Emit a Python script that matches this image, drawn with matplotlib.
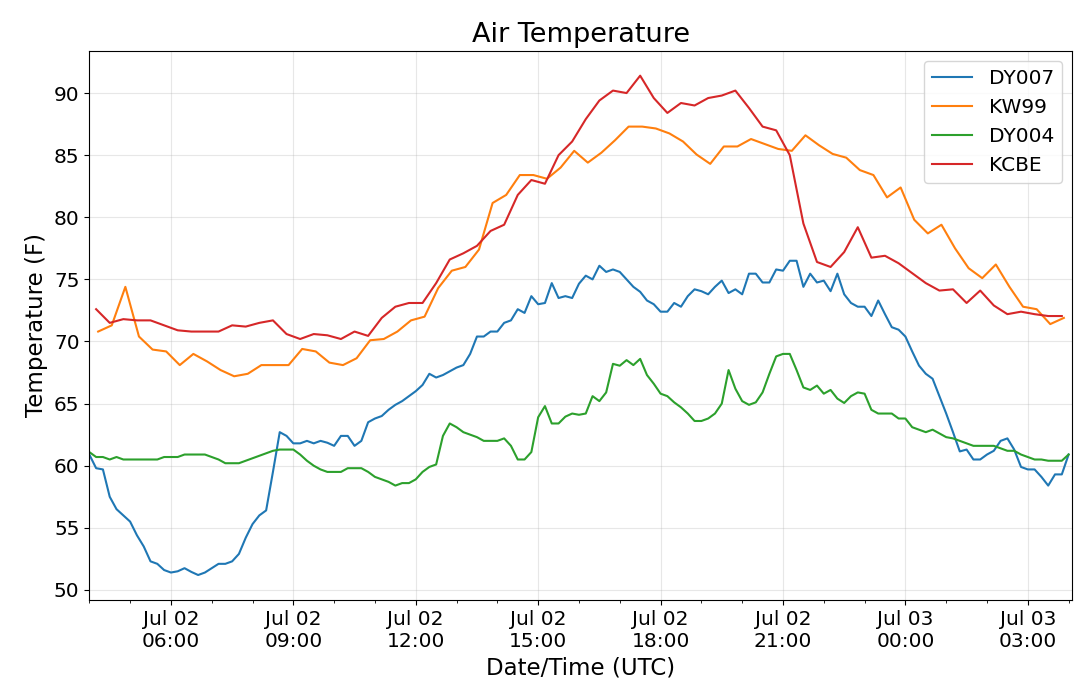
import numpy as np
import pandas as pd
import matplotlib
matplotlib.use("Agg")
import matplotlib.pyplot as plt
import matplotlib.dates as mdates

# DY007 / DY004: 10-minute station readings, 04:00 Jul 02 -> 04:00 Jul 03
dy007_temp = [
    60.9, 59.8, 59.7, 57.5, 56.5, 56.0, 55.5, 54.4, 53.5, 52.3,
    52.1, 51.6, 51.4, 51.5, 51.75, 51.45, 51.2, 51.4, 51.75, 52.1,
    52.1, 52.3, 52.9, 54.2, 55.3, 56.0, 56.4, 59.5, 62.7, 62.4,
    61.8, 61.8, 62.0, 61.8, 62.0, 61.85, 61.6, 62.4, 62.4, 61.6,
    62.0, 63.5, 63.8, 64.0, 64.5, 64.9, 65.2, 65.6, 66.0, 66.5,
    67.4, 67.1, 67.3, 67.6, 67.9, 68.1, 69.0, 70.4, 70.4, 70.8,
    70.8, 71.5, 71.7, 72.6, 72.3, 73.65, 73.0, 73.1, 74.7, 73.5,
    73.65, 73.5, 74.65, 75.3, 75.0, 76.1, 75.6, 75.8, 75.6, 75.0,
    74.4, 74.0, 73.3, 73.0, 72.4, 72.4, 73.1, 72.8, 73.65, 74.2,
    74.05, 73.8, 74.4, 74.9, 73.9, 74.2, 73.8, 75.46, 75.46, 74.75,
    74.75, 75.8, 75.7, 76.5, 76.5, 74.4, 75.46, 74.75, 74.9, 74.05,
    75.46, 73.8, 73.1, 72.8, 72.8, 72.05, 73.3, 72.2, 71.15, 70.95,
    70.4, 69.2, 68.06, 67.4, 67.0, 65.6, 64.2, 62.7, 61.15, 61.3,
    60.5, 60.5, 60.9, 61.2, 62.0, 62.2, 61.3, 59.9, 59.7, 59.7,
    59.1, 58.4, 59.3, 59.3, 60.9,
]
dy004_temp = [
    61.1, 60.7, 60.7, 60.5, 60.7, 60.5, 60.5, 60.5, 60.5, 60.5,
    60.5, 60.7, 60.7, 60.7, 60.9, 60.9, 60.9, 60.9, 60.7, 60.5,
    60.2, 60.2, 60.2, 60.4, 60.6, 60.8, 61.0, 61.2, 61.3, 61.3,
    61.3, 60.9, 60.4, 60.0, 59.7, 59.5, 59.5, 59.5, 59.8, 59.8,
    59.8, 59.5, 59.1, 58.9, 58.7, 58.4, 58.6, 58.6, 58.9, 59.5,
    59.9, 60.1, 62.4, 63.4, 63.1, 62.7, 62.5, 62.3, 62.0, 62.0,
    62.0, 62.2, 61.6, 60.5, 60.5, 61.1, 63.9, 64.8, 63.4, 63.4,
    63.95, 64.2, 64.1, 64.2, 65.6, 65.2, 65.9, 68.2, 68.05, 68.5,
    68.1, 68.6, 67.3, 66.6, 65.8, 65.6, 65.1, 64.7, 64.2, 63.6,
    63.6, 63.8, 64.2, 65.0, 67.7, 66.2, 65.2, 64.9, 65.1, 65.9,
    67.4, 68.8, 69.0, 69.0, 67.7, 66.3, 66.1, 66.45, 65.8, 66.1,
    65.4, 65.05, 65.6, 65.9, 65.8, 64.5, 64.2, 64.2, 64.2, 63.8,
    63.8, 63.1, 62.9, 62.7, 62.9, 62.6, 62.3, 62.2, 62.0, 61.8,
    61.6, 61.6, 61.6, 61.6, 61.4, 61.2, 61.2, 60.9, 60.7, 60.5,
    60.5, 60.4, 60.4, 60.4, 60.9,
]

# KW99 / KCBE: 20-minute airport obs
kw99_temp = [
    70.8, 71.3, 74.4, 70.4, 69.35, 69.2, 68.1, 69.0, 68.4, 67.7,
    67.2, 67.4, 68.1, 68.1, 68.1, 69.4, 69.2, 68.3, 68.1, 68.65,
    70.1, 70.2, 70.8, 71.7, 72.0, 74.3, 75.7, 76.0, 77.4, 81.15,
    81.8, 83.4, 83.4, 83.1, 84.0, 85.35, 84.4, 85.2, 86.2, 87.3,
    87.3, 87.15, 86.75, 86.1, 85.05, 84.3, 85.7, 85.7, 86.3, 85.9,
    85.5, 85.35, 86.6, 85.8, 85.1, 84.8, 83.8, 83.4, 81.6, 82.4,
    79.8, 78.7, 79.4, 77.5, 75.9, 75.1, 76.2, 74.4, 72.8, 72.6,
    71.4, 71.9,
]
kcbe_temp = [
    72.6, 71.5, 71.8, 71.7, 71.7, 71.3, 70.9, 70.8, 70.8, 70.8,
    71.3, 71.2, 71.5, 71.7, 70.6, 70.2, 70.6, 70.5, 70.2, 70.8,
    70.45, 71.9, 72.8, 73.1, 73.1, 74.7, 76.6, 77.1, 77.7, 78.9,
    79.4, 81.8, 83.0, 82.7, 85.0, 86.1, 87.9, 89.4, 90.2, 90.0,
    91.4, 89.6, 88.4, 89.2, 89.0, 89.6, 89.8, 90.2, 88.8, 87.3,
    87.0, 85.0, 79.5, 76.4, 76.0, 77.2, 79.2, 76.75, 76.9, 76.3,
    75.5, 74.7, 74.1, 74.2, 73.1, 74.1, 72.9, 72.2, 72.4, 72.2,
    72.05, 72.05,
]

dy_times = pd.date_range("2019-07-02 04:00", periods=len(dy007_temp), freq="10min")
kw99_times = pd.date_range("2019-07-02 04:13", periods=len(kw99_temp), freq="20min")
kcbe_times = pd.date_range("2019-07-02 04:10", periods=len(kcbe_temp), freq="20min")

fig = plt.figure(figsize=(10.8, 6.89), dpi=100)
ax = fig.add_axes([0.0827, 0.1292, 0.9099, 0.7972])

ax.plot(dy_times, dy007_temp, label="DY007")
ax.plot(kw99_times, kw99_temp, label="KW99")
ax.plot(dy_times, dy004_temp, label="DY004")
ax.plot(kcbe_times, kcbe_temp, label="KCBE")

ax.set_xlim(pd.Timestamp("2019-07-02 04:00"), pd.Timestamp("2019-07-03 04:05"))
ax.xaxis.set_major_locator(mdates.HourLocator(byhour=range(0, 24, 3)))
ax.xaxis.set_minor_locator(mdates.HourLocator())
ax.xaxis.set_major_formatter(mdates.DateFormatter("%b %d\n%H:%M"))

ax.grid(True, alpha=0.3)
ax.set_title("Air Temperature", fontsize=19.5)
ax.set_xlabel("Date/Time (UTC)", fontsize=16.5)
ax.set_ylabel("Temperature (F)", fontsize=16.5)
ax.tick_params(labelsize=14.5)
ax.legend(loc="upper right", fontsize=14.5)

fig.savefig("out.png", dpi=100)
